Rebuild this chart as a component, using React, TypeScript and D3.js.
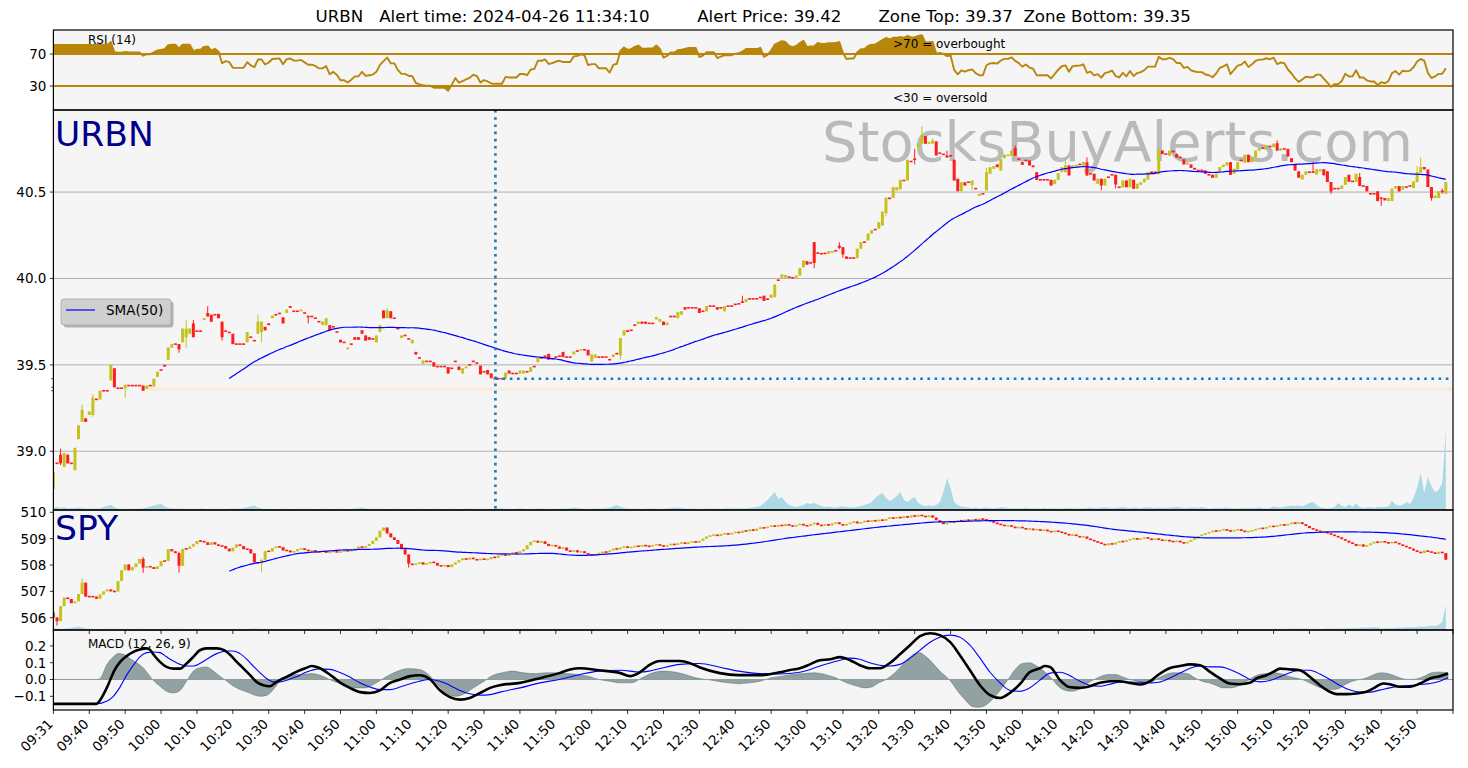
import React from "react";
import * as d3 from "d3";

// ---- layout (pixels of the 1468x768 figure) ----
const W = 1468;
const H = 768;
const X0 = 53.4;
const X1 = 1453;
const RSI_TOP = 30, RSI_BOT = 110;
const URBN_TOP = 110, URBN_BOT = 510;
const SPY_TOP = 510, SPY_BOT = 630;
const MACD_TOP = 630, MACD_BOT = 710;
const FONT = "DejaVu Sans, Verdana, sans-serif";

// ---- data ----
const titleText =
  "URBN   Alert time: 2024-04-26 11:34:10         Alert Price: 39.42       Zone Top: 39.37  Zone Bottom: 39.35";
const firstBar = "09:31";
const alertTime = "11:34:10";
const alertPrice = 39.42;
const zoneTop = 39.37;
const zoneBottom = 39.35;
const zoneStart = 26;

const tickLabels = [
  "09:31", "09:40", "09:50", "10:00", "10:10", "10:20", "10:30", "10:40", "10:50", "11:00",
  "11:10", "11:20", "11:30", "11:40", "11:50", "12:00", "12:10", "12:20", "12:30", "12:40",
  "12:50", "13:00", "13:10", "13:20", "13:30", "13:40", "13:50", "14:00", "14:10", "14:20",
  "14:30", "14:40", "14:50", "15:00", "15:10", "15:20", "15:30", "15:40", "15:50",
];

const urbnTicks = [39.0, 39.5, 40.0, 40.5];
const spyTicks = [506, 507, 508, 509, 510];
const macdTicks = [-0.1, 0.0, 0.1, 0.2];
const rsiTicks = [30, 70];

// URBN one-minute candles: [open, close]
const urbnOC: [number, number][] = [
  [38.78,38.88],[38.93,38.93],[38.98,38.93],[38.91,38.99],[38.98,38.93],[38.93,38.93],[38.89,39.02],[39.07,39.15],[39.17,39.24],[39.19,39.17],
  [39.21,39.23],[39.21,39.31],[39.30,39.30],[39.30,39.35],[39.35,39.35],[39.35,39.35],[39.41,39.50],[39.48,39.37],[39.365,39.365],[39.365,39.365],
  [39.365,39.385],[39.38,39.38],[39.38,39.38],[39.38,39.38],[39.38,39.38],[39.38,39.35],[39.36,39.38],[39.38,39.38],[39.375,39.42],[39.43,39.46],
  [39.47,39.47],[39.50,39.49],[39.53,39.60],[39.60,39.62],[39.62,39.62],[39.62,39.59],[39.63,39.71],[39.66,39.71],[39.68,39.71],[39.74,39.66],
  [39.695,39.695],[39.695,39.695],[39.76,39.77],[39.80,39.78],[39.79,39.75],[39.79,39.79],[39.795,39.77],[39.75,39.66],[39.695,39.695],[39.69,39.685],
  [39.68,39.62],[39.62,39.62],[39.62,39.62],[39.62,39.62],[39.63,39.69],[39.66,39.66],[39.64,39.64],[39.68,39.75],[39.69,39.75],[39.72,39.70],
  [39.74,39.73],[39.77,39.785],[39.79,39.79],[39.80,39.795],[39.775,39.74],[39.80,39.82],[39.84,39.83],[39.81,39.81],[39.81,39.81],[39.81,39.82],
  [39.80,39.80],[39.78,39.78],[39.78,39.78],[39.77,39.77],[39.75,39.75],[39.73,39.75],[39.73,39.77],[39.73,39.70],[39.72,39.72],[39.69,39.69],
  [39.645,39.63],[39.63,39.63],[39.59,39.60],[39.62,39.62],[39.66,39.645],[39.66,39.645],[39.70,39.68],[39.67,39.64],[39.66,39.645],[39.65,39.65],
  [39.63,39.67],[39.69,39.73],[39.815,39.77],[39.77,39.815],[39.81,39.77],[39.77,39.77],[39.71,39.71],[39.655,39.67],[39.67,39.67],[39.65,39.65],
  [39.625,39.645],[39.575,39.56],[39.54,39.54],[39.505,39.525],[39.52,39.52],[39.52,39.52],[39.515,39.49],[39.49,39.49],[39.49,39.49],[39.49,39.49],
  [39.487,39.45],[39.48,39.48],[39.52,39.52],[39.49,39.47],[39.45,39.48],[39.48,39.49],[39.50,39.50],[39.52,39.52],[39.51,39.51],[39.495,39.445],
  [39.46,39.46],[39.47,39.445],[39.45,39.423],[39.42,39.42],[39.42,39.42],[39.42,39.42],[39.42,39.455],[39.467,39.45],[39.45,39.45],[39.45,39.45],
  [39.45,39.467],[39.45,39.467],[39.46,39.46],[39.46,39.487],[39.49,39.49],[39.515,39.54],[39.54,39.54],[39.55,39.55],[39.564,39.53],[39.535,39.535],
  [39.545,39.545],[39.55,39.55],[39.575,39.545],[39.545,39.545],[39.545,39.545],[39.56,39.577],[39.58,39.58],[39.583,39.59],[39.587,39.587],[39.587,39.555],
  [39.52,39.56],[39.54,39.56],[39.545,39.545],[39.545,39.545],[39.545,39.545],[39.53,39.53],[39.545,39.56],[39.565,39.565],[39.555,39.655],[39.67,39.70],
  [39.70,39.69],[39.70,39.70],[39.73,39.73],[39.737,39.75],[39.75,39.738],[39.75,39.738],[39.74,39.74],[39.74,39.74],[39.763,39.777],[39.75,39.765],
  [39.75,39.73],[39.73,39.745],[39.78,39.78],[39.78,39.78],[39.77,39.805],[39.79,39.81],[39.834,39.82],[39.83,39.83],[39.83,39.83],[39.83,39.83],
  [39.828,39.80],[39.81,39.81],[39.81,39.84],[39.84,39.84],[39.84,39.84],[39.834,39.82],[39.83,39.83],[39.81,39.84],[39.84,39.84],[39.84,39.84],
  [39.85,39.85],[39.853,39.853],[39.863,39.863],[39.863,39.882],[39.882,39.882],[39.882,39.882],[39.882,39.882],[39.89,39.89],[39.90,39.87],[39.88,39.88],
  [39.888,39.907],[39.892,39.965],[39.99,39.99],[40.004,40.023],[40.005,40.02],[40.008,40.008],[40.004,40.004],[40.004,40.017],[40.017,40.06],[40.065,40.104],
  [40.10,40.08],[40.09,40.09],[40.21,40.09],[40.147,40.147],[40.143,40.143],[40.145,40.145],[40.143,40.158],[40.148,40.158],[40.16,40.16],[40.19,40.177],
  [40.181,40.139],[40.127,40.114],[40.118,40.118],[40.118,40.118],[40.118,40.172],[40.172,40.21],[40.21,40.21],[40.22,40.26],[40.26,40.28],[40.283,40.283],
  [40.288,40.326],[40.306,40.387],[40.378,40.467],[40.467,40.46],[40.467,40.528],[40.51,40.528],[40.515,40.571],[40.567,40.567],[40.567,40.687],[40.677,40.677],
  [40.69,40.69],[40.76,40.78],[40.78,40.83],[40.824,40.78],[40.78,40.79],[40.78,40.80],[40.793,40.712],[40.725,40.725],[40.718,40.718],[40.712,40.70],
  [40.71,40.71],[40.687,40.567],[40.577,40.505],[40.505,40.557],[40.557,40.538],[40.557,40.557],[40.54,40.567],[40.52,40.52],[40.477,40.49],[40.49,40.49],
  [40.51,40.615],[40.606,40.644],[40.635,40.65],[40.66,40.644],[40.625,40.69],[40.696,40.716],[40.71,40.716],[40.71,40.74],[40.754,40.71],[40.69,40.69],
  [40.673,40.658],[40.683,40.683],[40.683,40.654],[40.654,40.644],[40.615,40.57],[40.571,40.571],[40.571,40.571],[40.571,40.571],[40.571,40.538],[40.546,40.571],
  [40.571,40.61],[40.615,40.644],[40.615,40.654],[40.654,40.596],[40.639,40.654],[40.639,40.658],[40.66,40.66],[40.654,40.673],[40.673,40.596],[40.606,40.606],
  [40.606,40.567],[40.548,40.577],[40.577,40.538],[40.538,40.577],[40.586,40.586],[40.60,40.60],[40.60,40.544],[40.528,40.528],[40.528,40.567],[40.567,40.528],
  [40.528,40.577],[40.571,40.519],[40.519,40.548],[40.542,40.557],[40.557,40.577],[40.573,40.615],[40.615,40.615],[40.615,40.615],[40.606,40.74],[40.74,40.72],
  [40.72,40.72],[40.71,40.74],[40.74,40.73],[40.72,40.70],[40.70,40.70],[40.69,40.66],[40.66,40.67],[40.66,40.64],[40.64,40.63],[40.625,40.625],
  [40.625,40.625],[40.625,40.606],[40.60,40.60],[40.60,40.583],[40.583,40.606],[40.62,40.645],[40.645,40.658],[40.654,40.673],[40.673,40.60],[40.606,40.635],
  [40.63,40.673],[40.683,40.683],[40.67,40.716],[40.716,40.673],[40.673,40.70],[40.70,40.74],[40.74,40.754],[40.754,40.754],[40.75,40.77],[40.764,40.764],
  [40.76,40.78],[40.783,40.74],[40.74,40.754],[40.75,40.75],[40.75,40.706],[40.696,40.673],[40.66,40.625],[40.62,40.583],[40.573,40.60],[40.60,40.62],
  [40.615,40.615],[40.615,40.615],[40.601,40.632],[40.62,40.632],[40.632,40.597],[40.62,40.558],[40.558,40.504],[40.52,40.52],[40.52,40.52],[40.519,40.538],
  [40.542,40.587],[40.60,40.56],[40.562,40.562],[40.558,40.606],[40.587,40.535],[40.535,40.535],[40.535,40.504],[40.49,40.49],[40.49,40.49],[40.504,40.448],
  [40.465,40.465],[40.465,40.452],[40.448,40.465],[40.448,40.52],[40.52,40.535],[40.535,40.504],[40.515,40.535],[40.529,40.529],[40.535,40.535],[40.523,40.562],
  [40.558,40.616],[40.612,40.645],[40.645,40.632],[40.63,40.529],[40.529,40.465],[40.465,40.48],[40.465,40.504],[40.504,40.504],[40.49,40.558],
];

// visible wicks: [index, high, low]
const urbnWicks: [number, number, number][] = [
  [2,39.015,38.92],[8,39.27,39.17],[11,39.33,39.2],[20,39.365,39.31],[35,39.62,39.57],[37,39.76,39.6],[39,39.76,39.66],[43,39.84,39.78],
  [47,39.75,39.64],[57,39.79,39.68],[58,39.75,39.63],[71,39.78,39.74],[93,39.83,39.77],[158,39.655,39.53],[192,39.9,39.86],[212,40.21,40.06],
  [219,40.21,40.17],[220,40.18,40.12],[232,40.47,40.36],[240,40.75,40.66],[242,40.88,40.78],[245,40.81,40.78],[249,40.74,40.7],[256,40.567,40.51],
  [260,40.64,40.51],[268,40.77,40.71],[282,40.68,40.615],[288,40.7,40.596],[292,40.577,40.51],[296,40.6,40.52],[308,40.76,40.6],[332,40.72,40.67],
  [341,40.8,40.74],[351,40.673,40.615],[356,40.558,40.49],[364,40.61,40.535],[370,40.465,40.42],[380,40.65,40.558],[381,40.7,40.612],[384,40.529,40.45],
  [387,40.52,40.49],
];

const spyFirstOpen = 506.2;
const spyClose = [
  506.0,505.87,506.44,506.76,506.71,506.55,506.62,506.90,507.33,506.80,
  506.80,506.80,506.72,506.88,507.00,507.07,507.00,506.99,507.39,507.80,
  508.02,507.80,507.92,508.06,508.23,507.90,507.95,507.92,507.85,507.95,
  508.15,508.15,508.60,508.52,508.45,507.97,508.61,508.61,508.70,508.79,
  508.91,508.91,508.86,508.76,508.86,508.78,508.72,508.72,508.62,508.52,
  508.66,508.78,508.72,508.60,508.60,508.44,508.10,508.06,508.20,508.53,
  508.51,508.64,508.70,508.68,508.55,508.55,508.48,508.52,508.60,508.62,
  508.58,508.52,508.56,508.48,508.50,508.54,508.46,508.50,508.52,508.48,
  508.50,508.56,508.52,508.58,508.62,508.70,508.66,508.72,508.80,508.92,
  509.05,509.30,509.42,509.20,509.05,508.95,508.80,508.60,508.40,508.05,
  508.00,508.05,508.10,508.02,508.05,508.12,508.08,507.98,507.95,508.00,
  507.92,508.02,508.10,508.18,508.25,508.20,508.28,508.22,508.18,508.24,
  508.20,508.22,508.30,508.28,508.36,508.40,508.35,508.42,508.48,508.45,
  508.52,508.60,508.75,508.88,508.92,508.85,508.90,508.80,508.72,508.76,
  508.70,508.62,508.66,508.55,508.50,508.56,508.48,508.52,508.45,508.40,
  508.35,508.42,508.45,508.50,508.48,508.55,508.62,508.60,508.66,508.70,
  508.65,508.68,508.72,508.70,508.75,508.72,508.70,508.76,508.78,508.74,
  508.70,508.75,508.80,508.76,508.82,508.85,508.80,508.86,508.90,508.85,
  508.92,509.00,509.08,509.12,509.15,509.10,509.18,509.20,509.16,509.22,
  509.25,509.22,509.30,509.28,509.35,509.30,509.38,509.42,509.40,509.45,
  509.50,509.45,509.52,509.48,509.55,509.50,509.46,509.52,509.56,509.50,
  509.48,509.55,509.60,509.52,509.48,509.55,509.50,509.58,509.62,509.55,
  509.50,509.56,509.60,509.65,509.58,509.62,509.68,509.64,509.70,509.66,
  509.72,509.68,509.75,509.80,509.76,509.82,509.78,509.85,509.80,509.88,
  509.84,509.90,509.86,509.82,509.88,509.80,509.70,509.62,509.55,509.60,
  509.65,509.62,509.70,509.66,509.72,509.68,509.74,509.70,509.76,509.72,
  509.70,509.66,509.60,509.56,509.52,509.48,509.50,509.45,509.40,509.44,
  509.40,509.35,509.38,509.32,509.36,509.30,509.34,509.28,509.25,509.30,
  509.26,509.22,509.18,509.12,509.15,509.10,509.05,509.08,509.00,508.95,
  508.90,508.85,508.80,508.75,508.82,508.78,508.85,508.90,508.88,508.94,
  508.98,509.02,508.96,509.00,509.05,509.00,508.95,509.00,508.96,508.92,
  508.95,508.90,508.88,508.92,508.86,508.82,508.88,508.95,509.02,509.10,
  509.15,509.20,509.25,509.30,509.28,509.32,509.36,509.30,509.28,509.32,
  509.35,509.30,509.25,509.28,509.32,509.36,509.40,509.38,509.44,509.48,
  509.45,509.50,509.54,509.50,509.56,509.60,509.58,509.62,509.55,509.48,
  509.40,509.35,509.30,509.25,509.28,509.20,509.15,509.10,509.05,508.98,
  508.92,508.85,508.80,508.72,508.78,508.70,508.75,508.82,508.88,508.85,
  508.90,508.86,508.82,508.88,508.84,508.78,508.72,508.68,508.62,508.55,
  508.50,508.45,508.55,508.50,508.48,508.42,508.50,508.45,508.20,
];
const spyWicks: [number, number, number][] = [
  [1,506.03,505.7],[8,507.5,506.9],[25,508.3,507.7],[35,508.5,507.71],[58,508.2,507.72],[99,508.4,507.9],
];

const urbnVolume = [
  1.2,1.5,1.0,1.4,0.8,1.0,0.9,1.2,0.8,0.7, 0.6,0.8,0.7,0.9,1.5,2.0,2.6,1.4,0.8,0.6,
  0.5,0.6,0.5,0.7,0.6,0.9,1.2,1.8,2.2,2.8, 3.0,1.8,1.0,0.8,0.7,0.6,0.8,0.6,0.5,0.6,
  0.5,0.7,0.6,0.5,0.6,0.5,0.4,0.6,0.5,0.6, 0.8,0.7,0.6,1.0,1.4,1.8,2.2,1.2,0.7,0.5,
  0.5,0.6,0.4,0.5,0.6,0.5,0.4,0.5,0.6,0.5, 0.4,0.5,0.6,0.4,0.5,0.4,0.6,0.5,0.4,0.5,
  0.6,0.5,0.4,0.5,0.7,0.9,1.2,0.8,0.6,0.5, 0.4,0.5,0.6,0.5,0.4,0.5,0.6,0.5,0.4,0.5,
  0.5,0.4,0.6,0.5,0.4,0.5,0.6,0.5,0.4,0.5, 0.5,0.6,0.5,0.4,0.5,0.6,0.8,0.6,0.5,0.4,
  0.5,0.6,0.5,0.6,0.8,0.7,0.5,0.6,0.5,0.6, 0.7,0.6,0.5,0.6,0.5,0.7,0.8,0.6,0.5,0.6,
  0.6,0.5,0.7,0.8,0.9,1.2,1.0,0.7,0.6,0.5, 0.6,0.7,0.8,0.6,0.9,1.2,1.8,2.5,1.6,1.0,
  0.8,0.6,0.7,0.6,0.5,0.6,0.8,0.7,0.6,0.5, 0.6,0.7,0.9,1.1,1.3,1.0,0.8,0.6,0.7,0.6,
  0.5,0.6,0.7,0.6,0.8,0.7,0.6,0.8,0.9,0.7, 0.8,0.9,0.7,0.8,1.0,1.2,1.5,2.0,3.5,5.0,
  7.0,9.0,5.5,6.5,4.0,2.5,2.0,1.5,2.0,2.5, 3.5,3.0,3.5,2.8,2.0,1.5,1.8,1.4,1.2,1.6,
  1.8,1.5,1.2,1.4,1.6,2.0,2.5,3.0,4.0,6.0, 7.5,8.5,6.0,4.5,5.5,7.0,9.0,5.0,4.0,5.5,
  6.5,3.5,2.5,2.0,2.2,2.0,2.5,4.0,9.0,16.0, 11.0,4.0,2.5,1.8,1.5,1.2,1.0,1.2,0.9,1.0,
  1.2,1.0,0.8,1.0,1.4,1.2,0.9,0.8,1.0,0.8, 0.9,1.1,0.8,0.7,0.9,0.8,1.0,0.7,0.8,0.9,
  0.8,0.7,0.9,1.0,0.8,0.7,0.9,0.8,1.0,1.2, 1.0,0.9,1.2,1.4,1.1,0.9,1.0,1.2,1.5,1.1,
  1.0,1.3,1.1,0.9,1.2,1.4,1.1,1.0,1.3,1.1, 1.0,1.2,1.4,1.6,1.2,1.0,1.1,1.3,1.2,1.0,
  1.5,1.0,0.8,0.9,1.0,0.9,1.1,1.3,1.0,0.9, 0.8,1.0,0.9,1.1,0.9,1.0,1.2,0.9,0.8,1.0,
  1.8,1.4,1.2,1.6,2.0,2.2,2.0,2.2,1.8,2.6, 3.5,4.0,2.5,1.4,1.0,0.8,1.0,1.4,3.5,2.0,
  1.5,2.8,1.6,3.2,1.4,1.0,1.2,1.4,1.0,1.6, 1.4,1.5,1.8,4.5,2.8,2.2,2.6,4.0,3.0,6.0,
  11.0,18.5,8.5,16.5,12.0,9.0,10.0,13.5,40.0,
];

const spyVolume = [
  1.5,1.2,1.0,1.2,1.5,2.0,2.8,3.3,2.5,1.5, 1.2,1.0,1.0,1.1,0.9,1.0,1.2,1.1,1.3,1.0,
  1.0,0.9,1.0,1.1,1.0,1.2,1.0,0.9,1.0,1.1, 1.0,0.9,1.2,1.0,0.9,1.3,1.0,0.9,0.8,0.9,
  0.8,0.9,0.8,0.7,0.8,0.9,0.8,0.7,0.8,0.9, 0.8,0.7,0.8,0.9,1.0,1.2,1.5,1.3,1.0,0.9,
  0.8,0.7,0.8,0.7,0.6,0.7,0.8,0.7,0.6,0.7, 0.6,0.7,0.6,0.7,0.6,0.7,0.6,0.7,0.6,0.7,
  0.6,0.7,0.6,0.7,0.8,0.7,0.8,0.9,1.0,1.2, 1.4,1.6,1.5,1.2,1.0,0.9,1.0,1.2,1.4,1.6,
  1.3,1.0,0.9,0.8,0.7,0.8,0.7,0.8,0.7,0.8, 0.7,0.6,0.7,0.6,0.7,0.6,0.7,0.6,0.7,0.6,
  0.6,0.7,0.6,0.7,0.6,0.7,0.8,0.7,0.8,0.9, 1.0,1.1,1.2,1.0,0.9,0.8,0.7,0.8,0.7,0.6,
  0.7,0.6,0.7,0.6,0.7,0.6,0.7,0.6,0.7,0.6, 0.6,0.7,0.6,0.7,0.6,0.7,0.8,0.7,0.6,0.7,
  0.6,0.7,0.6,0.7,0.6,0.7,0.6,0.7,0.6,0.7, 0.6,0.7,0.6,0.7,0.6,0.7,0.6,0.7,0.6,0.7,
  0.7,0.8,0.7,0.8,0.7,0.8,0.9,0.8,0.9,1.0, 1.1,1.2,1.0,0.9,0.8,0.9,0.8,0.9,0.8,0.9,
  0.8,0.9,0.8,0.9,0.8,0.9,0.8,0.9,1.0,0.9, 0.8,0.9,1.0,1.1,1.0,0.9,1.0,1.1,1.2,1.1,
  1.0,0.9,0.8,0.9,0.8,0.9,0.8,0.9,0.8,0.9, 0.8,0.9,0.8,0.9,1.0,1.1,1.2,1.1,1.0,1.2,
  1.1,1.0,0.9,0.8,0.9,0.8,0.9,1.0,1.2,1.4, 1.2,1.0,0.9,0.8,0.9,0.8,0.9,0.8,0.9,0.8,
  0.8,0.9,0.8,0.9,0.8,0.9,0.8,0.9,0.8,0.9, 0.8,0.9,0.8,0.9,0.8,0.9,0.8,0.9,0.8,0.9,
  0.8,0.9,0.8,0.9,0.8,0.9,0.8,0.9,0.8,0.9, 0.8,0.9,1.0,0.9,0.8,0.9,1.0,0.9,0.8,0.9,
  0.8,0.9,1.0,0.9,0.8,0.9,1.0,0.9,0.8,0.9, 0.8,0.9,1.0,0.9,0.8,0.9,1.0,0.9,0.8,0.9,
  0.9,1.0,1.1,1.0,0.9,1.0,1.1,1.0,0.9,1.0, 0.9,1.0,1.1,1.0,0.9,1.0,1.1,1.0,0.9,1.0,
  1.0,1.1,1.2,1.0,1.2,1.4,1.3,1.5,1.4,1.6, 1.0,1.1,1.2,1.0,1.2,1.4,1.3,1.5,1.4,1.6,
  1.5,1.8,2.0,1.8,2.2,2.5,2.2,2.8,3.0,2.6, 1.5,1.8,2.0,1.8,2.2,2.5,2.2,2.8,3.0,2.6,
  3.2,3.5,3.0,3.8,4.2,4.0,5.0,8.0,25.0,
];

// MACD (12, 26, 9): [bar index, value]
const macdLine: [number, number][] = [
  [0,-0.145],[12,-0.145],[13,-0.123],[15,-0.044],[17,0.055],[18.6,0.105],[20.4,0.139],[22.3,0.164],[24.1,0.178],[26,0.185],[27,0.175],[28,0.146],
  [29.7,0.105],[31.5,0.075],[33.4,0.065],[35.3,0.065],[37.1,0.095],[39,0.135],[40.8,0.174],[42.7,0.185],[45.5,0.185],[47.4,0.176],[49.3,0.146],
  [51.1,0.105],[53,0.065],[54.8,0.026],[56.6,-0.014],[58.5,-0.034],[60.3,-0.04],[62.2,-0.014],[64,0.006],[65.9,0.026],[67.7,0.045],[70,0.065],
  [72,0.08],[74,0.07],[77,0.03],[80,-0.02],[82.6,-0.05],[85.4,-0.075],[88.2,-0.08],[91,-0.065],[93.8,-0.02],[96.6,0.0],[99.4,0.02],[102,0.025],
  [105,0.0],[107.7,-0.064],[110.5,-0.105],[113.3,-0.12],[116,-0.11],[118.9,-0.08],[121.7,-0.05],[124.4,-0.034],[130,-0.02],[135.6,0.008],[141,0.038],
  [144,0.06],[146.7,0.067],[152,0.055],[158,0.038],[160.7,0.02],[163.4,0.043],[166,0.085],[169,0.11],[174.6,0.11],[177.4,0.097],[180,0.073],
  [185.7,0.038],[191,0.026],[197,0.026],[202.4,0.043],[205,0.055],[208,0.067],[210.8,0.09],[213.6,0.115],[216.4,0.12],[219.2,0.133],[222,0.115],
  [224.7,0.085],[227.5,0.067],[230.3,0.067],[233,0.097],[235.9,0.15],[238.7,0.204],[241.5,0.258],[244.3,0.275],[247,0.264],[249.9,0.222],
  [252.6,0.145],[255.4,0.055],[258.2,-0.034],[261,-0.093],[263.8,-0.11],[266.5,-0.08],[269.3,-0.028],[272,0.043],[274.9,0.067],[276.3,0.08],
  [277.7,0.075],[280.5,-0.004],[283,-0.045],[286,-0.05],[288.8,-0.04],[291.6,-0.02],[294.4,-0.01],[297,-0.01],[300,-0.02],[302.8,-0.03],
  [305.6,-0.01],[308,0.03],[311,0.067],[313.9,0.08],[316.7,0.09],[319.5,0.085],[322.3,0.045],[325.1,0.006],[327.8,-0.024],[330.6,-0.028],
  [333.4,-0.02],[335.2,0.006],[338,0.025],[339.9,0.045],[341.8,0.065],[344.5,0.06],[347.3,0.055],[350.1,0.016],[352.9,-0.034],[355.7,-0.073],
  [357.6,-0.087],[360.4,-0.087],[363.1,-0.083],[365.9,-0.073],[367.8,-0.053],[370.6,-0.024],[372.4,-0.028],[375.2,-0.043],[378,-0.043],
  [380.8,-0.024],[383.6,0.006],[386.3,0.02],[388.6,0.036],
];
const signalLine: [number, number][] = [
  [0,-0.145],[12,-0.145],[14.8,-0.13],[16.7,-0.10],[18.6,-0.044],[20.4,0.026],[22.3,0.085],[24.1,0.135],[26,0.16],[27.8,0.164],[29.7,0.16],
  [31.5,0.135],[33.4,0.11],[35.3,0.09],[37.1,0.08],[39,0.08],[40.8,0.095],[42.7,0.12],[45.5,0.154],[48.3,0.17],[50.2,0.17],[52,0.154],[53.9,0.12],
  [55.7,0.08],[57.6,0.04],[59.4,0.006],[61.3,-0.014],[63.1,-0.014],[65,-0.005],[66.8,0.01],[68.6,0.024],[70,0.04],[72,0.055],[74,0.063],[77,0.06],
  [80,0.04],[82.6,0.015],[85.4,-0.02],[88.2,-0.045],[91,-0.06],[93.8,-0.06],[96.6,-0.045],[99.4,-0.025],[102,-0.01],[105,0.0],[107.7,-0.01],
  [110.5,-0.035],[113.3,-0.065],[116,-0.085],[118.9,-0.093],[121.7,-0.09],[124.4,-0.075],[130,-0.05],[135.6,-0.02],[141,0.0],[146.7,0.03],
  [152,0.05],[158,0.055],[163.4,0.045],[166,0.05],[169,0.065],[174.6,0.09],[180,0.095],[185.7,0.073],[191,0.05],[197,0.035],[202.4,0.033],
  [208,0.043],[213.6,0.08],[219.2,0.115],[222,0.127],[224.7,0.12],[227.5,0.1],[230.3,0.085],[233,0.08],[235.9,0.09],[238.7,0.127],[241.5,0.175],
  [244.3,0.222],[247,0.252],[249.9,0.264],[252.6,0.252],[255.4,0.204],[258.2,0.127],[261,0.043],[263.8,-0.02],[266.5,-0.064],[269.3,-0.07],
  [272,-0.05],[274.9,-0.004],[277.7,0.038],[280.5,0.043],[283,0.026],[286,-0.01],[288.8,-0.034],[291.6,-0.04],[294.4,-0.028],[297,-0.016],
  [300,-0.016],[302.8,-0.016],[305.6,-0.02],[308,-0.016],[311,0.008],[313.9,0.038],[316.7,0.067],[319.5,0.08],[322.3,0.075],[325.1,0.075],
  [327.8,0.06],[330.6,0.033],[333.4,0.0],[336.2,-0.014],[339,-0.006],[341.8,0.016],[344.5,0.04],[347.3,0.055],[350.1,0.055],[352.9,0.033],
  [355.7,0.0],[358.5,-0.036],[361.3,-0.063],[364.1,-0.075],[366.9,-0.075],[369.6,-0.063],[372.4,-0.05],[375.2,-0.04],[378,-0.036],[380.8,-0.03],
  [383.6,-0.024],[386.3,-0.01],[388.6,0.01],
];
const macdHist: [number, number][] = [
  [0,0],[12,0],[13,0.006],[14.8,0.085],[16.7,0.135],[18.1,0.155],[19.5,0.15],[21.3,0.125],[23.2,0.1],[25,0.07],[26.9,0.02],[27.8,-0.005],
  [29.7,-0.04],[31.5,-0.07],[33.4,-0.08],[35.3,-0.065],[37.1,-0.01],[39,0.05],[40.8,0.07],[42.7,0.075],[44.6,0.05],[46.4,0.02],[48.3,-0.01],
  [50.2,-0.04],[52,-0.06],[53.9,-0.075],[55.7,-0.09],[57.6,-0.1],[59.4,-0.095],[61.3,-0.06],[63.1,-0.01],[65,0.02],[66.8,0.03],[68.6,0.03],
  [72,0.035],[75,0.02],[78,-0.01],[81,-0.03],[84,-0.05],[87,-0.05],[90,-0.02],[93,0.02],[96,0.05],[99,0.065],[102,0.06],[105,0.02],[107,-0.03],
  [109.5,-0.08],[112,-0.1],[114,-0.09],[117,-0.05],[120,-0.01],[122,0.02],[125,0.04],[128,0.05],[131,0.04],[134,0.035],[137,0.04],[140,0.04],
  [143,0.035],[146,0.03],[149,0.02],[152,0.0],[155,-0.01],[158,-0.02],[161,-0.02],[164,0.01],[167,0.04],[170,0.05],[173,0.045],[176,0.03],
  [179,0.01],[182,0.0],[185,-0.01],[188,-0.02],[191,-0.025],[194,-0.02],[197,-0.01],[200,0.01],[203,0.02],[206,0.03],[209,0.035],[212,0.04],
  [215,0.03],[218,0.01],[221,-0.02],[224,-0.04],[226,-0.05],[228,-0.045],[230,-0.02],[232,0.0],[235,0.05],[238,0.12],[241,0.16],[244,0.12],
  [247,0.05],[250,-0.01],[252,-0.07],[254,-0.12],[256,-0.16],[258,-0.165],[260,-0.15],[262,-0.11],[264,-0.06],[266,0.0],[268,0.06],[270,0.095],
  [272,0.1],[274,0.08],[276,0.05],[278,0.01],[280,-0.04],[282,-0.065],[284,-0.07],[286,-0.055],[288,-0.025],[290,0.0],[292,0.02],[294,0.03],
  [296,0.03],[298,0.015],[300,0.0],[302,-0.01],[304,-0.02],[306,-0.015],[308,0.01],[310,0.03],[312,0.04],[314,0.04],[316,0.035],[318,0.01],
  [320,-0.01],[322,-0.02],[324,-0.035],[326,-0.05],[328,-0.05],[330,-0.04],[332,-0.02],[334,0.01],[336,0.03],[338,0.035],[340,0.04],[342,0.035],
  [344,0.02],[346,0.01],[348,0.0],[350,-0.02],[352,-0.04],[354,-0.055],[356,-0.06],[358,-0.055],[360,-0.03],[362,-0.01],[364,0.0],[366,0.01],
  [368,0.03],[370,0.04],[372,0.035],[374,0.02],[376,0.005],[378,0.0],[380,0.005],[382,0.02],[384,0.04],[386,0.045],[388.6,0.04],
];

// ---- helpers ----
const toMin = (t: string) => {
  const [h, m, s] = t.split(":").map(Number);
  return h * 60 + m + (s || 0) / 60;
};

function sma(vals: number[], n: number): [number, number][] {
  const out: [number, number][] = [];
  for (let i = n - 1; i < vals.length; i++) {
    out.push([i, d3.mean(vals.slice(i - n + 1, i + 1)) as number]);
  }
  return out;
}

// Wilder RSI; the bars before the first full window take the first value
function rsi(vals: number[], n: number): number[] {
  const out = new Array(vals.length).fill(NaN);
  let g = 0, l = 0;
  for (let i = 1; i <= n; i++) {
    const d = vals[i] - vals[i - 1];
    if (d > 0) g += d; else l -= d;
  }
  g /= n; l /= n;
  out[n] = l === 0 ? 100 : 100 - 100 / (1 + g / l);
  for (let i = n + 1; i < vals.length; i++) {
    const d = vals[i] - vals[i - 1];
    g = (g * (n - 1) + Math.max(d, 0)) / n;
    l = (l * (n - 1) + Math.max(-d, 0)) / n;
    out[i] = l === 0 ? 100 : 100 - 100 / (1 + g / l);
  }
  for (let i = 0; i < n; i++) out[i] = out[n];
  return out;
}

const UP = "#c6c21c";
const DOWN = "#ff1c1c";
const GOLD = "#b8860b";
const BG = "#f5f5f5";

type Bar = { i: number; o: number; c: number; h: number; l: number };

function Candles({ bars, x, y, bw }: { bars: Bar[]; x: any; y: any; bw: number }) {
  return (
    <g>
      {bars.map((b) => {
        const col = b.c > b.o ? UP : DOWN;
        const top = y(Math.max(b.o, b.c));
        const bot = y(Math.min(b.o, b.c));
        const hgt = Math.max(1.6, bot - top);
        return (
          <g key={b.i}>
            <line x1={x(b.i)} x2={x(b.i)} y1={y(b.h)} y2={y(b.l)} stroke={col} strokeWidth={1} />
            <rect x={x(b.i) - bw / 2} y={top - (hgt - (bot - top)) / 2} width={bw} height={hgt} fill={col} />
          </g>
        );
      })}
    </g>
  );
}

export default function App() {
  const x = d3.scaleLinear().domain([0, 390]).range([X0, X1]);
  const yU = d3.scaleLinear().domain([38.66, 40.975]).range([URBN_BOT, URBN_TOP]);
  const yS = d3.scaleLinear().domain([505.533, 510.087]).range([SPY_BOT, SPY_TOP]);
  const yR = d3.scaleLinear().domain([0, 100]).range([RSI_BOT, RSI_TOP]);
  const yM = d3.scaleLinear().domain([-0.1815, 0.2946]).range([MACD_BOT, MACD_TOP]);
  const vU = d3.scaleLinear().domain([0, d3.max(urbnVolume) as number]).range([URBN_BOT, URBN_BOT - 80]);
  const vS = d3.scaleLinear().domain([0, d3.max(spyVolume) as number]).range([SPY_BOT, SPY_BOT - 25]);

  const urbnBars: Bar[] = urbnOC.map(([o, c], i) => ({ i, o, c, h: Math.max(o, c), l: Math.min(o, c) }));
  urbnWicks.forEach(([i, h, l]) => {
    urbnBars[i].h = Math.max(urbnBars[i].h, h);
    urbnBars[i].l = Math.min(urbnBars[i].l, l);
  });
  const spyBars: Bar[] = spyClose.map((c, i) => {
    const o = i === 0 ? spyFirstOpen : spyClose[i - 1];
    return { i, o, c, h: Math.max(o, c), l: Math.min(o, c) };
  });
  spyWicks.forEach(([i, h, l]) => {
    spyBars[i].h = Math.max(spyBars[i].h, h);
    spyBars[i].l = Math.min(spyBars[i].l, l);
  });

  const urbnClose = urbnOC.map((d) => d[1]);
  const urbnSma = sma(urbnClose, 50);
  const spySma = sma(spyClose, 50);
  const rsiVals = rsi(urbnClose, 14);

  const alertIdx = toMin(alertTime) - toMin(firstBar);
  const bw = 3.0;

  const smaU = d3.line<[number, number]>().x((d) => x(d[0])).y((d) => yU(d[1])).curve(d3.curveMonotoneX)(urbnSma) as string;
  const smaS = d3.line<[number, number]>().x((d) => x(d[0])).y((d) => yS(d[1])).curve(d3.curveMonotoneX)(spySma) as string;
  const volUPath = d3.area<number>().x((_, i) => x(i)).y0(URBN_BOT).y1((d) => vU(d))(urbnVolume) as string;
  const volSPath = d3.area<number>().x((_, i) => x(i)).y0(SPY_BOT).y1((d) => vS(d))(spyVolume) as string;

  const rsiPath = d3.line<number>().x((_, i) => x(i)).y((d) => yR(d))(rsiVals) as string;
  const rsiHigh = d3.area<number>().x((_, i) => x(i)).y0(yR(70)).y1((d) => yR(Math.max(d, 70)))(rsiVals) as string;
  const rsiLow = d3.area<number>().x((_, i) => x(i)).y0(yR(30)).y1((d) => yR(Math.min(d, 30)))(rsiVals) as string;

  const mLine = d3.line<[number, number]>().x((d) => x(d[0])).y((d) => yM(d[1])).curve(d3.curveMonotoneX);
  const histPath = d3.area<[number, number]>().x((d) => x(d[0])).y0(yM(0)).y1((d) => yM(d[1])).curve(d3.curveMonotoneX)(macdHist) as string;

  const tickIdx = tickLabels.map((_, k) => k * 10);
  const fmtMacd = (v: number) => (v < -1e-9 ? "\u2212" : "") + Math.abs(v).toFixed(1);

  const yAxis = (ticks: number[], scale: any, fmt: (v: number) => string, key: string) => (
    <g key={key}>
      {ticks.map((t) => (
        <g key={t}>
          <line x1={X0 - 3.5} x2={X0} y1={scale(t)} y2={scale(t)} stroke="#000" strokeWidth={0.8} />
          <text x={X0 - 7} y={scale(t)} dy="0.36em" textAnchor="end" fontSize={13.5} fontFamily={FONT} fill="#000">
            {fmt(t)}
          </text>
        </g>
      ))}
    </g>
  );

  return (
    <svg width={W} height={H} style={{ position: "absolute", left: 0, top: 0, background: "#fff" }}>
      <defs>
        <clipPath id="cR"><rect x={X0} y={RSI_TOP} width={X1 - X0} height={RSI_BOT - RSI_TOP} /></clipPath>
        <clipPath id="cU"><rect x={X0} y={URBN_TOP} width={X1 - X0} height={URBN_BOT - URBN_TOP} /></clipPath>
        <clipPath id="cS"><rect x={X0} y={SPY_TOP} width={X1 - X0} height={SPY_BOT - SPY_TOP} /></clipPath>
        <clipPath id="cM"><rect x={X0} y={MACD_TOP} width={X1 - X0} height={MACD_BOT - MACD_TOP} /></clipPath>
      </defs>
      <rect x={0} y={0} width={W} height={H} fill="#fff" />

      {/* title */}
      <text x={(X0 + X1) / 2} y={22} textAnchor="middle" fontSize={16.67} fontFamily={FONT} xmlSpace="preserve" style={{ whiteSpace: "pre" }}>
        {titleText}
      </text>

      {/* panel backgrounds */}
      {[[RSI_TOP, RSI_BOT], [URBN_TOP, URBN_BOT], [SPY_TOP, SPY_BOT], [MACD_TOP, MACD_BOT]].map(([a, b]) => (
        <rect key={a} x={X0} y={a} width={X1 - X0} height={b - a} fill={BG} />
      ))}

      {/* RSI panel */}
      <g clipPath="url(#cR)">
        <path d={rsiHigh} fill={GOLD} />
        <path d={rsiLow} fill={GOLD} />
        <line x1={X0} x2={X1} y1={yR(70)} y2={yR(70)} stroke={GOLD} strokeWidth={2} />
        <line x1={X0} x2={X1} y1={yR(30)} y2={yR(30)} stroke={GOLD} strokeWidth={2} />
        <path d={rsiPath} fill="none" stroke={GOLD} strokeWidth={1.9} strokeLinejoin="round" />
      </g>
      <text x={88} y={44} fontSize={12} fontFamily={FONT}>RSI (14)</text>
      <text x={893} y={48} fontSize={12} fontFamily={FONT}>&gt;70 = overbought</text>
      <text x={893} y={102} fontSize={12} fontFamily={FONT}>&lt;30 = oversold</text>
      {yAxis(rsiTicks, yR, (v) => String(v), "ar")}

      {/* URBN panel */}
      <g clipPath="url(#cU)">
        {urbnTicks.map((t) => (
          <line key={t} x1={X0} x2={X1} y1={yU(t)} y2={yU(t)} stroke="#b0b0b0" strokeWidth={1} />
        ))}
        <text x={822} y={161} fontSize={56} fontFamily={FONT} fill="#bababa">StocksBuyAlerts.com</text>
        <rect x={x(zoneStart)} y={yU(zoneTop)} width={X1 - x(zoneStart)} height={yU(zoneBottom) - yU(zoneTop)} fill="#f9ebd9" />
        <path d={volUPath} fill="#add8e6" />
        <Candles bars={urbnBars} x={x} y={yU} bw={bw} />
        <path d={smaU} fill="none" stroke="#0000ff" strokeWidth={1.2} />
        <line x1={x(alertIdx)} x2={x(alertIdx)} y1={URBN_TOP} y2={URBN_BOT} stroke="#1f77b4" strokeWidth={2.6} strokeDasharray="2.6 4.6" />
        <line x1={x(alertIdx)} x2={X1} y1={yU(alertPrice)} y2={yU(alertPrice)} stroke="#1f77b4" strokeWidth={2.6} strokeDasharray="2.6 4.6" />
      </g>
      <text x={55} y={146} fontSize={34.5} fontFamily={FONT} fill="#00008b">URBN</text>
      {yAxis(urbnTicks, yU, d3.format(".1f"), "au")}
      {[alertPrice, zoneTop, zoneBottom].map((t) => (
        <line key={t} x1={X0 - 2} x2={X0} y1={yU(t)} y2={yU(t)} stroke="#000" strokeWidth={0.8} />
      ))}

      {/* legend */}
      <g>
        <rect x={63.5} y={301.5} width={110} height={26} rx={3} fill="#7a7a7a" opacity={0.55} />
        <rect x={61} y={299} width={110} height={26} rx={3} fill="#cfcfcf" stroke="#a8a8a8" strokeWidth={0.8} />
        <line x1={66} x2={95} y1={310} y2={310} stroke="#0000ff" strokeWidth={1.2} />
        <text x={106} y={315} fontSize={13.5} fontFamily={FONT}>SMA(50)</text>
      </g>

      {/* SPY panel */}
      <g clipPath="url(#cS)">
        <path d={volSPath} fill="#add8e6" />
        <Candles bars={spyBars} x={x} y={yS} bw={bw} />
        <path d={smaS} fill="none" stroke="#0000ff" strokeWidth={1.2} />
      </g>
      <text x={55} y={540} fontSize={34.5} fontFamily={FONT} fill="#00008b">SPY</text>
      {yAxis(spyTicks, yS, (v) => String(v), "as")}

      {/* MACD panel */}
      <g clipPath="url(#cM)">
        <path d={histPath} fill="#2f4f4f" fillOpacity={0.5} stroke="#2f4f4f" strokeOpacity={0.35} strokeWidth={1} />
        <line x1={X0} x2={X1} y1={yM(0)} y2={yM(0)} stroke="#8e9e9e" strokeWidth={1.2} />
        <path d={mLine(signalLine) as string} fill="none" stroke="#0000ff" strokeWidth={1.1} />
        <path d={mLine(macdLine) as string} fill="none" stroke="#000" strokeWidth={2.6} />
      </g>
      <text x={88} y={648} fontSize={12} fontFamily={FONT}>MACD (12, 26, 9)</text>
      {yAxis(macdTicks, yM, fmtMacd, "am")}

      {/* panel frames */}
      {[[RSI_TOP, RSI_BOT], [URBN_TOP, URBN_BOT], [SPY_TOP, SPY_BOT], [MACD_TOP, MACD_BOT]].map(([a, b]) => (
        <rect key={"f" + a} x={X0} y={a} width={X1 - X0} height={b - a} fill="none" stroke="#000" strokeWidth={1.2} />
      ))}

      {/* x axis */}
      {tickIdx.map((t, k) => (
        <g key={t}>
          <line x1={x(t)} x2={x(t)} y1={SPY_BOT} y2={SPY_BOT + 4} stroke="#000" strokeWidth={0.8} />
          <line x1={x(t)} x2={x(t)} y1={MACD_BOT} y2={MACD_BOT + 4} stroke="#000" strokeWidth={0.8} />
          <text transform={`translate(${x(t) - 6.5},${MACD_BOT + 8}) rotate(-45)`} dy="0.72em" textAnchor="end" fontSize={13.5} fontFamily={FONT}>
            {tickLabels[k]}
          </text>
        </g>
      ))}
      <line x1={X1} x2={X1} y1={SPY_BOT} y2={SPY_BOT + 4} stroke="#000" strokeWidth={0.8} />
      <line x1={X1} x2={X1} y1={MACD_BOT} y2={MACD_BOT + 4} stroke="#000" strokeWidth={0.8} />
    </svg>
  );
}
